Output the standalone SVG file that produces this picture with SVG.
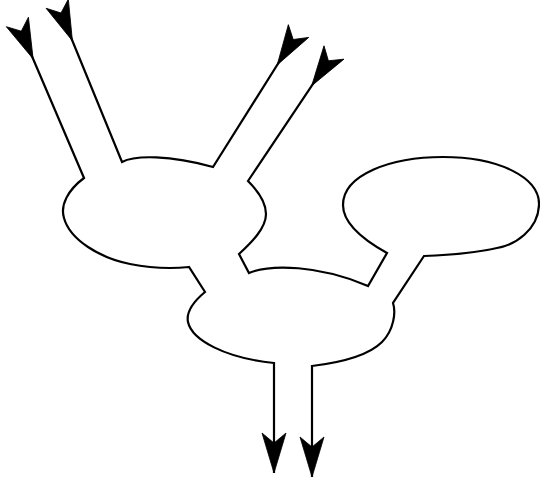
<svg xmlns="http://www.w3.org/2000/svg" width="540" height="483" viewBox="0 0 540 483">
<style>
.ln{fill:none;stroke:#000;stroke-width:2.2;stroke-linejoin:miter}
.ah{fill:#000;stroke:#000;stroke-width:0.8;stroke-linejoin:miter}
</style>
<defs>
<marker id="s" markerUnits="userSpaceOnUse" markerWidth="44" markerHeight="26" refX="10" refY="0" orient="auto" overflow="visible">
<path class="ah" d="M0,-12 L40,0 L0,12 L10,0 Z"/>
</marker>
<marker id="e" markerUnits="userSpaceOnUse" markerWidth="44" markerHeight="26" refX="40" refY="0" orient="auto" overflow="visible">
<path class="ah" d="M0,-12 L40,0 L0,12 L10,0 Z"/>
</marker>
<marker id="r" markerUnits="userSpaceOnUse" markerWidth="44" markerHeight="26" refX="30" refY="0" orient="auto" overflow="visible">
<path class="ah" d="M40,-12 L0,0 L40,12 L30,0 Z"/>
</marker>
</defs>
<g id="connectors">
<path id="strandA" class="ln" marker-start="url(#s)" marker-end="url(#e)" d="M21.3,31.2 L84,178 C68,190 60,205 64,218 C70,240 100,258 130,264 C150,268 170,269 189,267 L205,292 C193,302 186,312 188,322 C192,340 225,358 274,363 L274,473"/>
<path id="strandB" class="ln" marker-start="url(#s)" marker-end="url(#r)" d="M61,13 L122,162 C135,155 170,155 213,167 L293.2,39.5"/>
<path id="strandC" class="ln" marker-start="url(#s)" marker-end="url(#e)" d="M328.4,60.8 L248,181 C258,191 266,202 266,214 C266,228 252,242 239,254 L249,273 C270,264 320,265 368,286 L387,253 C360,238 343,222 343,205 C343,175 390,157 443,157 C500,157 540,178 539,205 C538,230 515,245 497,248 C480,252 450,255 424,256 L393,303 C396,312 394,330 382,342 C370,354 345,362 312,366 L312,477"/>
</g>
</svg>
